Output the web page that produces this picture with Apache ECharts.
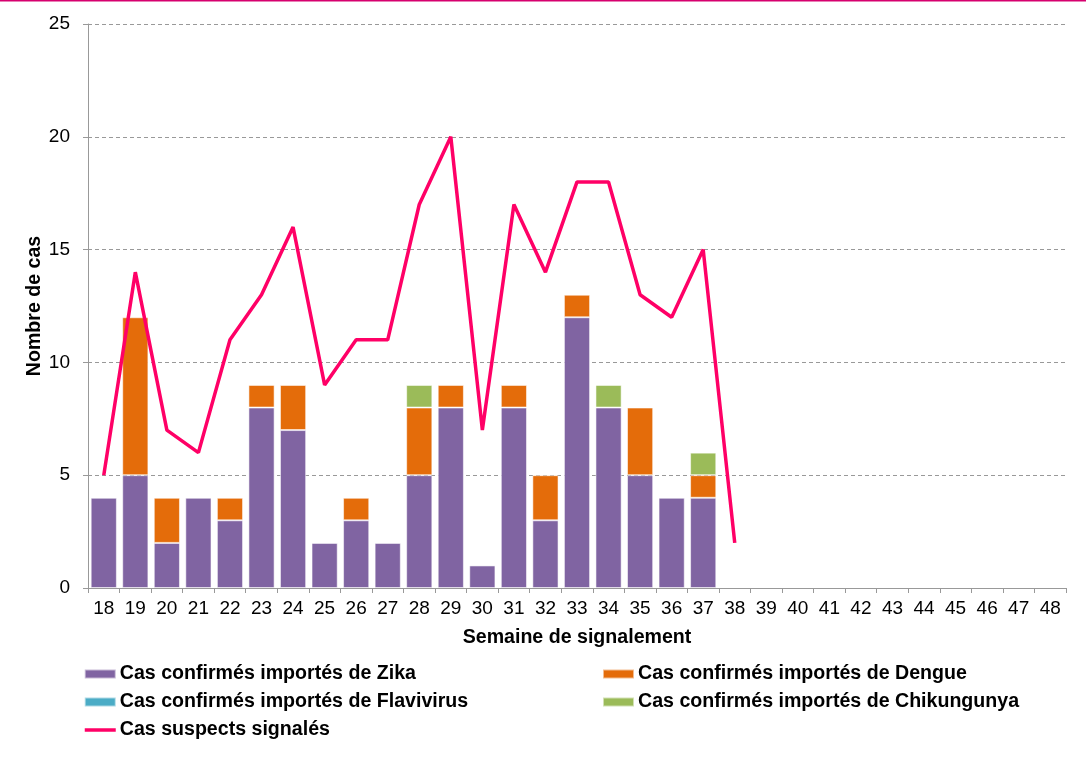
<!DOCTYPE html>
<html>
<head>
<meta charset="utf-8">
<script src="https://cdn.jsdelivr.net/npm/echarts@6/dist/echarts.min.js"></script>
<style>html,body{margin:0;padding:0;background:#fff}#c{width:1086px;height:764px}</style>
</head>
<body>
<div id="c"></div>
<script>
const weeks = ['18','19','20','21','22','23','24','25','26','27','28','29','30','31','32','33','34','35','36','37','38','39','40','41','42','43','44','45','46','47','48'];
const zika =       [4,5,2,4,3,8,7,2,3,2,5,8,1,8,3,12,8,5,4,4,null,null,null,null,null,null,null,null,null,null,null];
const dengue =     [null,7,2,null,1,1,2,null,1,null,3,1,null,1,2,1,null,3,null,1,null,null,null,null,null,null,null,null,null,null,null];
const flavivirus = [null,null,null,null,null,null,null,null,null,null,null,null,null,null,null,null,null,null,null,null,null,null,null,null,null,null,null,null,null,null,null];
const chik =       [null,null,null,null,null,null,null,null,null,null,1,null,null,null,null,null,1,null,null,1,null,null,null,null,null,null,null,null,null,null,null];
const suspects =   [5,14,7,6,11,13,16,9,11,11,17,20,7,17,14,18,18,13,12,15,2,null,null,null,null,null,null,null,null,null,null];

const names = ['Cas confirmés importés de Zika','Cas confirmés importés de Dengue','Cas confirmés importés de Flavivirus','Cas confirmés importés de Chikungunya','Cas suspects signalés'];
const font = 'Liberation Sans, Arial, sans-serif';
const chart = echarts.init(document.getElementById('c'));
const barStyle = c => ({color: c, borderColor: 'rgba(255,255,255,0.55)', borderWidth: 1});
const legendCommon = {orient:'vertical', itemWidth:31, itemHeight:9, itemGap:8, padding:0,
  textStyle:{fontFamily:font, fontSize:19.6, lineHeight:20, fontWeight:'bold', color:'#000', padding:[0,0,0,-1]}};
chart.setOption({
  animation:false,
  graphic:[{type:'line', shape:{x1:0,y1:0.75,x2:1086,y2:0.75}, style:{stroke:'#d6006e', lineWidth:1.5}}],
  grid:{left:88, right:20, top:24, bottom:176},
  legend:[
    Object.assign({}, legendCommon, {left:83, top:664, data:[{name:names[0], icon:'rect'}, {name:names[2], icon:'rect'},
      {name:names[4], itemStyle:{color:'rgba(0,0,0,0)', borderWidth:0, opacity:0}, lineStyle:{width:3.5, color:'#ff0066'}}]}),
    Object.assign({}, legendCommon, {left:602, top:664, data:[{name:names[1], icon:'rect'}, {name:names[3], icon:'rect'}]})
  ],
  xAxis:{type:'category', data:weeks, boundaryGap:true,
    name:'Semaine de signalement', nameLocation:'middle', nameGap:40,
    nameTextStyle:{fontFamily:font, fontSize:19.6, fontWeight:'bold', color:'#000'},
    axisLine:{lineStyle:{color:'#999'}}, axisTick:{show:true, alignWithLabel:false, length:5, lineStyle:{color:'#999'}},
    axisLabel:{fontFamily:font, fontSize:19, color:'#000', interval:0, margin:11}},
  yAxis:{type:'value', min:0, max:25, interval:5,
    name:'Nombre de cas', nameLocation:'middle', nameGap:43, nameMoveOverlap:false,
    nameTextStyle:{fontFamily:font, fontSize:19.6, fontWeight:'bold', color:'#000'},
    axisLine:{show:true, lineStyle:{color:'#999'}}, axisTick:{show:true, length:5, lineStyle:{color:'#999'}},
    axisLabel:{fontFamily:font, fontSize:19, color:'#000', margin:18},
    splitLine:{lineStyle:{color:'#999', type:[4,3]}}},
  series:[
    {name:names[0], type:'bar', stack:'a', data:zika, barCategoryGap:'17%', itemStyle:barStyle('#8064a2')},
    {name:names[1], type:'bar', stack:'a', data:dengue, itemStyle:barStyle('#e46c0a')},
    {name:names[2], type:'bar', stack:'a', data:flavivirus, itemStyle:barStyle('#4bacc6')},
    {name:names[3], type:'bar', stack:'a', data:chik, itemStyle:barStyle('#9bbb59')},
    {name:names[4], type:'line', data:suspects, symbol:'none', lineStyle:{color:'#ff0066', width:3.5}, itemStyle:{color:'#ff0066'}, z:5}
  ]
});
</script>
</body>
</html>
